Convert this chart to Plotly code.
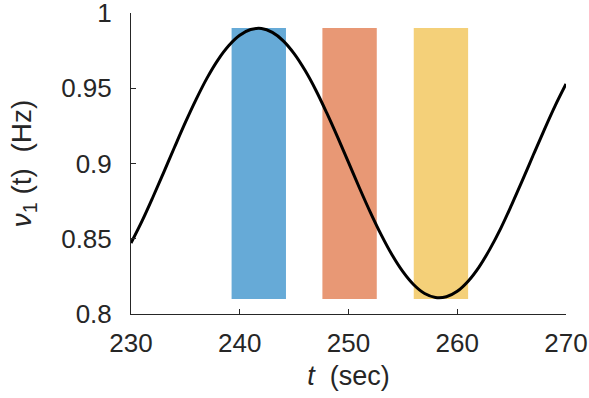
import plotly.graph_objects as go

# Time (sec) and frequency nu_1(t) (Hz)
t_vals = list(range(230, 271))
nu_vals = [0.8471, 0.8615, 0.8774, 0.8940, 0.9108, 0.9273, 0.9428, 0.9569, 0.9689, 0.9784,
           0.9852, 0.9890, 0.9897, 0.9871, 0.9815, 0.9730, 0.9619, 0.9487, 0.9336, 0.9175,
           0.9007, 0.8839, 0.8677, 0.8527, 0.8393, 0.8281, 0.8194, 0.8136, 0.8110, 0.8115,
           0.8151, 0.8218, 0.8312, 0.8431, 0.8569, 0.8725, 0.8889, 0.9058, 0.9224, 0.9383,
           0.9528]

# Highlighted windows
win_start = [239.25, 247.6, 256.0]
win_end = [244.25, 252.6, 261.0]
win_low = 0.81
win_high = 0.99
win_colors = ["#66AAD7", "#E89875", "#F4D079"]

x_ticks = [230, 240, 250, 260, 270]
y_ticks = [0.8, 0.85, 0.9, 0.95, 1.0]
y_tick_text = ["0.8", "0.85", "0.9", "0.95", "1"]

ink = "#262626"
font_family = "Liberation Sans, Arial, sans-serif"

fig = go.Figure()
fig.add_trace(go.Scatter(x=t_vals, y=nu_vals, mode="lines",
                         line=dict(color="black", width=3, shape="spline"),
                         showlegend=False, hoverinfo="skip", cliponaxis=False))

shapes = []
for x0, x1, c in zip(win_start, win_end, win_colors):
    shapes.append(dict(type="rect", xref="x", yref="y", x0=x0, x1=x1,
                       y0=win_low, y1=win_high, fillcolor=c,
                       line=dict(width=0), layer="below"))

fig.update_layout(
    width=589, height=398,
    margin=dict(l=131, r=23, t=13, b=84),
    paper_bgcolor="white", plot_bgcolor="white",
    font=dict(family=font_family, size=26, color=ink),
    shapes=shapes,
    xaxis=dict(range=[230, 270.00001], tickvals=x_ticks, ticks="inside", ticklen=5,
               tickcolor=ink, tickwidth=1, showline=True, linecolor=ink, linewidth=1,
               showgrid=False, zeroline=False, mirror=False, automargin=False,
               ticklabeloverflow="allow",
               title=dict(text="<i>t</i>  (sec)", standoff=8, font=dict(size=27)),
               tickfont=dict(size=26, color=ink), ticklabelstandoff=6),
    yaxis=dict(range=[0.8, 1.0000001], tickvals=y_ticks, ticktext=y_tick_text, ticks="inside",
               ticklen=5, tickcolor=ink, tickwidth=1, showline=True, linecolor=ink,
               linewidth=1, showgrid=False, zeroline=False, mirror=False, automargin=False,
               ticklabeloverflow="allow",
               title=dict(text="<i>ν</i><sub>1</sub> (t)  (Hz)", standoff=21, font=dict(size=28)),
               tickfont=dict(size=26, color=ink), ticklabelstandoff=13),
)

fig.write_html("out.html")
